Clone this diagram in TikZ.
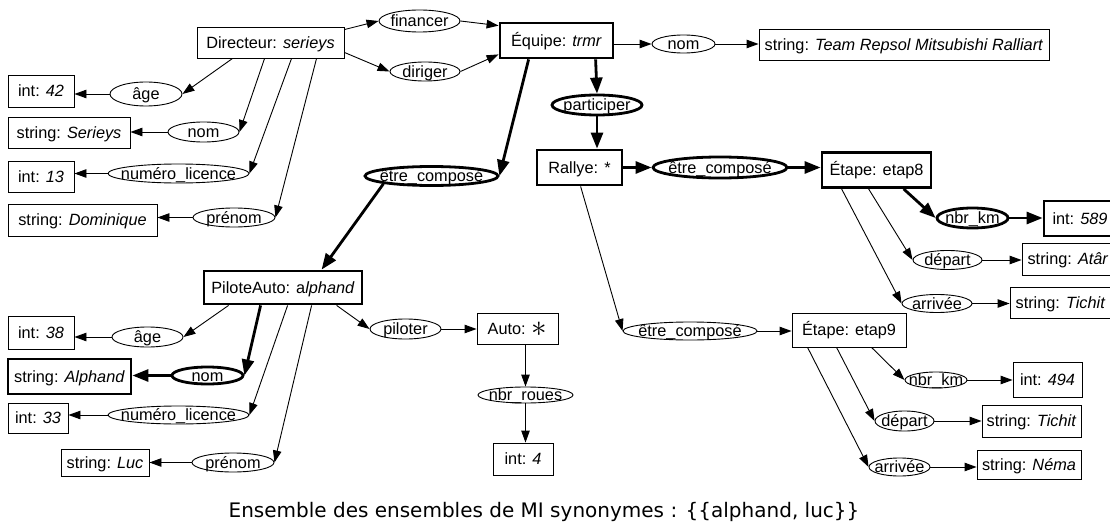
\documentclass[tikz,border=0pt]{standalone}
\usepackage{fontspec}
\usepackage{graphicx}
\setmainfont{Liberation Sans}
\newfontfamily\capfont{DejaVu Sans}
\usetikzlibrary{shapes.geometric,arrows.meta,calc}
\newcommand\ct[1]{\makebox[0pt]{\raisebox{-0.36em}[0pt][0pt]{#1}}}
\tikzset{
  bx/.style 2 args={draw, rectangle, line width=0.9pt, minimum width=#1pt, minimum height=#2pt, inner sep=0pt, font=\fontsize{16.3}{19}\selectfont},
  tbx/.style 2 args={bx={#1}{#2}, line width=2.8pt},
  el/.style 2 args={draw, ellipse, line width=0.9pt, minimum width=#1pt, minimum height=#2pt, inner sep=0pt, font=\fontsize{16.3}{19}\selectfont},
  tel/.style 2 args={el={#1}{#2}, line width=2.8pt},
  ed/.style={line width=0.9pt, -{Triangle[length=12pt,width=8.5pt]}},
  ted/.style={line width=2.8pt, -{Triangle[length=16pt,width=12pt]}},
}
\begin{document}
\begin{tikzpicture}[x=1pt,y=-1pt]
\useasboundingbox (0,0) rectangle (1110,532);
% Directeur part
\node[bx={147}{31}] (dir) at (270.5,42.5) {\ct{Directeur: \textit{serieys}}};
\node[el={81}{22}] (fin) at (419.5,21) {\ct{financer}};
\node[el={70}{19}] (dirg) at (425,71.5) {\ct{diriger}};
\node[tbx={113}{35}] (equ) at (556.5,40.5) {\ct{Équipe: \textit{trmr}}};
\node[el={63}{18}] (nom1) at (683.5,44) {\ct{nom}};
\node[bx={290}{31}] (team) at (904,44.5) {\ct{string: \textit{Team Repsol Mitsubishi Ralliart}}};
\node[tel={90}{20}] (part) at (597,105) {\ct{participer}};
\node[tbx={85}{35}] (ral) at (579.5,167.5) {\ct{Rallye: *}};
\node[tel={134}{21}] (ecr) at (720,167.5) {\ct{être\_composé}};
\node[tbx={109}{35}] (et8) at (876.5,170) {\ct{Étape: etap8}};
\node[tel={71}{20}] (km8) at (972.5,218) {\ct{nbr\_km}};
\node[tbx={72}{35}] (i589) at (1080,218.5) {\ct{int: \textit{589}}};
\node[el={69}{19}] (dep8) at (947.5,260) {\ct{départ}};
\node[bx={92}{32}] (ata) at (1068,259) {\ct{string: \textit{Atâr}}};
\node[el={70}{18}] (arr8) at (937,303.5) {\ct{arrivée}};
\node[bx={101}{31}] (tic8) at (1060.5,302.5) {\ct{string: \textit{Tichit}}};
\node[tel={133}{19}] (ecl) at (431.5,176) {\ct{être\_composé}};
% Directeur attributes
\node[bx={66}{32}] (i42) at (41,91) {\ct{int: \textit{42}}};
\node[el={72}{24}] (age1) at (146,94) {\ct{âge}};
\node[bx={122}{31}] (ser) at (69,132.5) {\ct{string: \textit{Serieys}}};
\node[el={71}{20}] (nom3) at (203.5,132) {\ct{nom}};
\node[bx={66}{31}] (i13) at (41,176.5) {\ct{int: \textit{13}}};
\node[el={141}{19}] (num1) at (178.5,173.5) {\ct{numéro\_licence}};
\node[bx={149}{32}] (dom) at (82.5,220) {\ct{string: \textit{Dominique}}};
\node[el={82}{19}] (pre1) at (234,217.5) {\ct{prénom}};
% Pilote part
\node[tbx={158}{33}] (pil) at (283,287.5) {\ct{PiloteAuto: a\textit{lphand}}};
\node[el={71}{20}] (age2) at (147.5,337) {\ct{âge}};
\node[bx={66}{33}] (i38) at (41,332.5) {\ct{int: \textit{38}}};
\node[tel={71}{17}] (nom2) at (207.5,375.5) {\ct{nom}};
\node[tbx={123}{35}] (alp) at (69.5,376.5) {\ct{string: \textit{Alphand}}};
\node[el={141}{18}] (num2) at (178.5,415) {\ct{numéro\_licence}};
\node[bx={60}{30}] (i33) at (38,418) {\ct{int: \textit{33}}};
\node[el={82}{19}] (pre2) at (233,462.5) {\ct{prénom}};
\node[bx={88}{27}] (luc) at (105,462.5) {\ct{string: \textit{Luc}}};
\node[el={71}{20}] (pil2) at (405.5,329) {\ct{piloter}};
\node[bx={81}{31}] (auto) at (517.5,328.5) {\ct{Auto: \raisebox{-0.12em}{\scalebox{1.8}{$\ast$}}}};
\node[el={95}{16}] (roues) at (525.5,395) {\ct{nbr\_roues}};
\node[bx={60}{32}] (i4) at (523,459) {\ct{int: \textit{4}}};
% etap9 part
\node[el={134}{18}] (ece) at (690,331) {\ct{être\_composé}};
\node[bx={114}{34}] (et9) at (849,330) {\ct{Étape: etap9}};
\node[el={62}{16}] (km9) at (936,380) {\ct{nbr\_km}};
\node[bx={69}{35}] (i494) at (1047.5,379.5) {\ct{int: \textit{494}}};
\node[el={59}{20}] (dep9) at (904.5,421) {\ct{départ}};
\node[bx={99}{32}] (tic9) at (1031.5,421) {\ct{string: \textit{Tichit}}};
\node[el={61}{18}] (arr9) at (899.5,467) {\ct{arrivée}};
\node[bx={104}{29}] (nema) at (1029,464.5) {\ct{string: \textit{Néma}}};
% caption
\node[font=\capfont\fontsize{20}{24}\selectfont, inner sep=0pt] (cap) at (544,512) {Ensemble des ensembles de MI synonymes : \{\{alphand, luc\}\}};
% edges: Directeur
\draw[ed] ([yshift=-3pt]dir.north east) -- (fin.west);
\draw[ed] ([yshift=6pt]dir.south east) -- (dirg.west);
\draw[ed] (fin.east) -- ([yshift=-4pt]equ.north west);
\draw[ed] (dirg.east) -- ([yshift=5pt]equ.south west);
\draw[ed] ([xshift=36pt]dir.south west) -- (age1.east);
\draw[ed] ([xshift=68pt]dir.south west) -- (nom3.east);
\draw[ed] ([xshift=95pt]dir.south west) -- (num1.east);
\draw[ed] ([xshift=120pt]dir.south west) -- (pre1.east);
\draw[ed] (age1.west) -- (age1.west -| i42.east);
\draw[ed] (nom3.west) -- (nom3.west -| ser.east);
\draw[ed] (num1.west) -- (num1.west -| i13.east);
\draw[ed] (pre1.west) -- (pre1.west -| dom.east);
% Equipe
\draw[ed] (equ.east |- nom1.west) -- (nom1.west);
\draw[ed] (nom1.east) -- (team.west |- nom1.east);
\draw[ted] ([xshift=97pt]equ.south west) -- (part.north);
\draw[ted] (part.south) -- (part.south |- ral.north);
\draw[ted] ([xshift=30pt]equ.south west) -- (ecl.east);
\draw[ted] (ecl.south west) -- ([xshift=119pt]pil.north west);
% Rallye
\draw[ted] (ral.east |- ecr.west) -- (ecr.west);
\draw[ted] (ecr.east) -- (ecr.east -| et8.west);
\draw[ed] ([xshift=45pt]ral.south west) -- (ece.west);
\draw[ed] (ece.east) -- (ece.east -| et9.west);
% etap8
\draw[ted] ([xshift=83pt]et8.south west) -- (km8.west);
\draw[ed] ([xshift=48pt]et8.south west) -- (dep8.west);
\draw[ed] ([xshift=21pt]et8.south west) -- (arr8.west);
\draw[ted] (km8.east) -- (km8.east -| i589.west);
\draw[ed] (dep8.east) -- (dep8.east -| ata.west);
\draw[ed] (arr8.east) -- (arr8.east -| tic8.west);
% etap9
\draw[ed] ([xshift=80pt]et9.south west) -- (km9.west);
\draw[ed] ([xshift=45pt]et9.south west) -- (dep9.west);
\draw[ed] ([xshift=16pt]et9.south west) -- (arr9.west);
\draw[ed] (km9.east) -- (km9.east -| i494.west);
\draw[ed] (dep9.east) -- (dep9.east -| tic9.west);
\draw[ed] (arr9.east) -- (arr9.east -| nema.west);
% Pilote
\draw[ed] ([xshift=26pt]pil.south west) -- (age2.east);
\draw[ted] ([xshift=58pt]pil.south west) -- (nom2.east);
\draw[ed] ([xshift=85pt]pil.south west) -- (num2.east);
\draw[ed] ([xshift=109pt]pil.south west) -- (pre2.east);
\draw[ed] ([xshift=134pt]pil.south west) -- (pil2.west);
\draw[ed] (age2.west) -- (age2.west -| i38.east);
\draw[ted] (nom2.west) -- (nom2.west -| alp.east);
\draw[ed] (num2.west) -- (num2.west -| i33.east);
\draw[ed] (pre2.west) -- (pre2.west -| luc.east);
\draw[ed] (pil2.east) -- (pil2.east -| auto.west);
\draw[ed] (roues.north |- auto.south) -- (roues.north);
\draw[ed] (roues.south) -- (roues.south |- i4.north);
\end{tikzpicture}
\end{document}
